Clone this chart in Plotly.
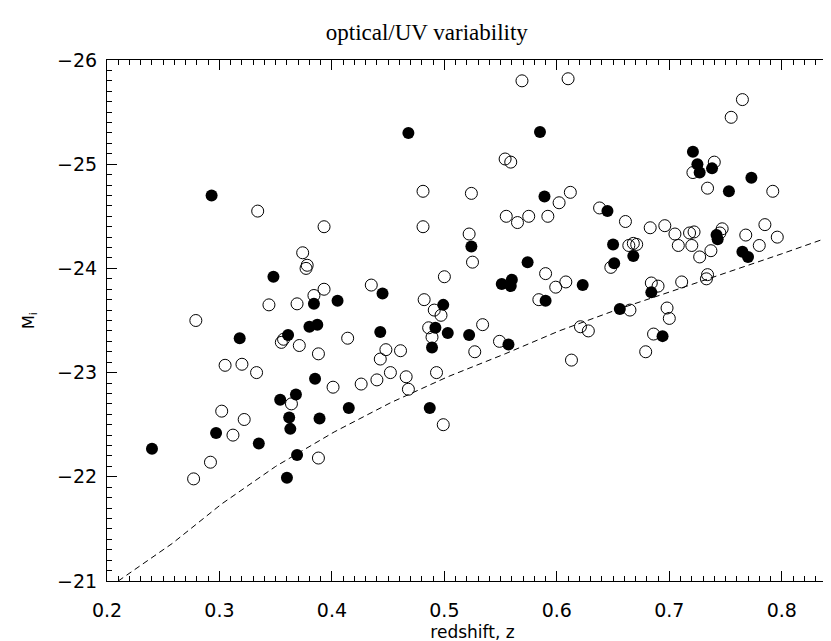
import plotly.graph_objects as go

# ---- data ----
z_filled = [0.240, 0.293, 0.297, 0.318, 0.335, 0.348, 0.354, 0.360, 0.361, 0.362,
            0.363, 0.368, 0.369, 0.380, 0.384, 0.385, 0.387, 0.389, 0.405, 0.415,
            0.443, 0.445, 0.468, 0.487, 0.489, 0.492, 0.499, 0.503, 0.522, 0.524,
            0.551, 0.557, 0.559, 0.560, 0.574, 0.585, 0.589, 0.590, 0.623, 0.645,
            0.650, 0.651, 0.656, 0.668, 0.684, 0.694, 0.721, 0.725, 0.727, 0.738,
            0.742, 0.743, 0.753, 0.765, 0.770, 0.773]
M_filled = [-22.27, -24.70, -22.42, -23.33, -22.32, -23.92, -22.74, -21.99, -23.36, -22.57,
            -22.46, -22.79, -22.21, -23.44, -23.66, -22.94, -23.46, -22.56, -23.69, -22.66,
            -23.39, -23.76, -25.30, -22.66, -23.24, -23.43, -23.65, -23.38, -23.36, -24.21,
            -23.85, -23.27, -23.83, -23.89, -24.06, -25.31, -24.69, -23.69, -23.84, -24.55,
            -24.23, -24.05, -23.61, -24.12, -23.77, -23.35, -25.12, -25.00, -24.92, -24.96,
            -24.32, -24.28, -24.74, -24.16, -24.11, -24.87]

z_open = [0.277, 0.279, 0.292, 0.302, 0.305, 0.312, 0.320, 0.322, 0.334, 0.333,
          0.344, 0.355, 0.357, 0.364, 0.369, 0.371, 0.374, 0.377, 0.378, 0.384,
          0.388, 0.388, 0.393, 0.393, 0.401, 0.414, 0.426, 0.435, 0.440, 0.443,
          0.448, 0.452, 0.461, 0.466, 0.468, 0.481, 0.481, 0.482, 0.486, 0.489,
          0.491, 0.493, 0.497, 0.500, 0.499, 0.522, 0.524, 0.525, 0.527, 0.534,
          0.549, 0.554, 0.559, 0.555, 0.565, 0.569, 0.575, 0.584, 0.590, 0.592,
          0.599, 0.602, 0.608, 0.610, 0.612, 0.613, 0.621, 0.628, 0.638, 0.648,
          0.661, 0.664, 0.665, 0.668, 0.671, 0.679, 0.683, 0.684, 0.686, 0.690,
          0.696, 0.698, 0.700, 0.705, 0.708, 0.711, 0.718, 0.720, 0.721, 0.722,
          0.727, 0.733, 0.734, 0.734, 0.737, 0.740, 0.745, 0.747, 0.755, 0.765,
          0.768, 0.780, 0.785, 0.792, 0.796]
M_open = [-21.98, -23.50, -22.14, -22.63, -23.07, -22.40, -23.08, -22.55, -24.55, -23.00,
          -23.65, -23.29, -23.32, -22.70, -23.66, -23.26, -24.15, -24.00, -24.03, -23.74,
          -22.18, -23.18, -23.80, -24.40, -22.86, -23.33, -22.89, -23.84, -22.93, -23.13,
          -23.22, -23.00, -23.21, -22.96, -22.84, -24.74, -24.40, -23.70, -23.43, -23.34,
          -23.60, -23.00, -23.55, -23.92, -22.50, -24.33, -24.72, -24.06, -23.20, -23.46,
          -23.30, -25.05, -25.02, -24.50, -24.44, -25.80, -24.50, -23.70, -23.95, -24.50,
          -23.82, -24.63, -23.87, -25.82, -24.73, -23.12, -23.44, -23.40, -24.58, -24.01,
          -24.45, -24.22, -23.60, -24.24, -24.23, -23.20, -24.39, -23.86, -23.37, -23.83,
          -24.41, -23.62, -23.52, -24.33, -24.22, -23.87, -24.34, -24.22, -24.92, -24.35,
          -24.11, -23.90, -23.94, -24.77, -24.17, -25.02, -24.34, -24.38, -25.45, -25.62,
          -24.32, -24.22, -24.42, -24.74, -24.30]

curve_z = [0.210, 0.258, 0.302, 0.350, 0.402, 0.452, 0.503, 0.554, 0.602, 0.655,
           0.702, 0.757, 0.800, 0.850]
curve_M = [-21.00, -21.36, -21.74, -22.10, -22.43, -22.71, -22.96, -23.18, -23.40, -23.61,
           -23.78, -23.98, -24.14, -24.33]

x_ticks = [0.2, 0.3, 0.4, 0.5, 0.6, 0.7, 0.8]
x_ticktext = ["0.2", "0.3", "0.4", "0.5", "0.6", "0.7", "0.8"]
y_ticks = [-26, -25, -24, -23, -22, -21]
y_ticktext = ["\u221226", "\u221225", "\u221224", "\u221223", "\u221222", "\u221221"]

fig = go.Figure()
fig.add_trace(go.Scatter(x=curve_z, y=curve_M, mode="lines",
                         line=dict(color="black", width=1, dash="6px,4px"),
                         hoverinfo="skip", showlegend=False))
fig.add_trace(go.Scatter(x=z_open, y=M_open, mode="markers", showlegend=False,
                         marker=dict(symbol="circle-open", size=12, color="black",
                                     line=dict(width=1, color="black"))))
fig.add_trace(go.Scatter(x=z_filled, y=M_filled, mode="markers", showlegend=False,
                         marker=dict(symbol="circle", size=12, color="black",
                                     line=dict(width=0))))

axis_common = dict(showgrid=False, zeroline=False, showline=True, linecolor="black",
                   linewidth=1, mirror="allticks", ticks="inside", tickcolor="black",
                   tickwidth=1, ticklen=10,
                   tickfont=dict(family="DejaVu Sans", size=19, color="black"))

fig.update_xaxes(range=[0.2, 0.85], tickvals=x_ticks, ticktext=x_ticktext,
                 minor=dict(ticks="inside", ticklen=5, dtick=0.01, tick0=0.2,
                            tickcolor="black", showgrid=False),
                 ticklabelstandoff=12,
                 title=dict(text="redshift, z", standoff=6,
                            font=dict(family="DejaVu Sans", size=17, color="black")),
                 **axis_common)
fig.update_yaxes(range=[-21, -26], tickvals=y_ticks, ticktext=y_ticktext,
                 minor=dict(ticks="inside", ticklen=5, dtick=0.1, tick0=-26,
                            tickcolor="black", showgrid=False),
                 ticklabelstandoff=5,
                 title=dict(text="M<sub>i</sub>", standoff=18,
                            font=dict(family="DejaVu Sans", size=16, color="black")),
                 **axis_common)

fig.update_layout(
    width=831, height=641,
    margin=dict(l=99, r=1, t=52, b=68),
    paper_bgcolor="white", plot_bgcolor="white",
    title=dict(text="optical/UV variability", x=0.504, xref="container", xanchor="center",
               y=1 - 24 / 641, yref="container", yanchor="middle",
               font=dict(family="Liberation Serif", size=23, color="black")),
)

fig.write_html("out.html")
